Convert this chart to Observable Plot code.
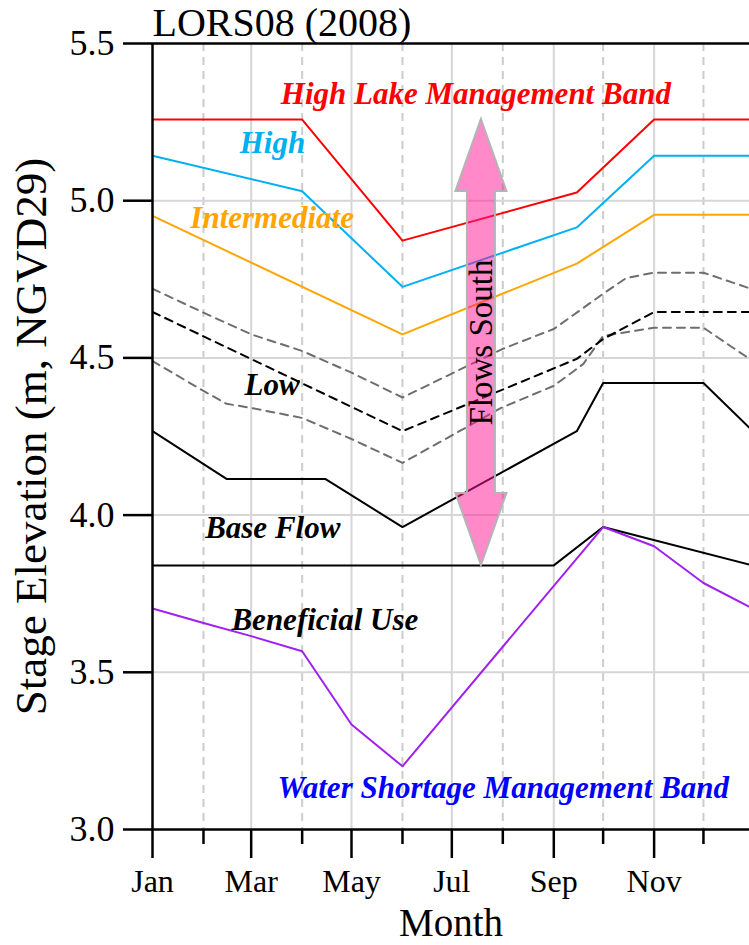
<!DOCTYPE html>
<html><head><meta charset="utf-8">
<script src="https://cdn.jsdelivr.net/npm/d3@7"></script>
<script src="https://cdn.jsdelivr.net/npm/@observablehq/plot@0.6"></script>
<style>body{margin:0;background:#fff;} svg{display:block;}</style>
</head><body><div id="chart"></div>
<script>
// ---------- data ----------
const titleText = "LORS08 (2008)";
const xTitle = "Month";
const yTitle = "Stage Elevation (m, NGVD29)";
const monthStarts = ["2008-01-01","2008-02-01","2008-03-01","2008-04-01","2008-05-01","2008-06-01","2008-07-01","2008-08-01","2008-09-01","2008-10-01","2008-11-01","2008-12-01"];
const xDomain = ["2008-01-01","2008-12-29"];
const yTicks = [3.0, 3.5, 4.0, 4.5, 5.0, 5.5];
const yGrid = [3.5, 4.0, 4.5, 5.0];

const hlmbDates = ["2008-01-01","2008-04-01","2008-06-01","2008-09-15","2008-11-01","2008-12-31"];
const hlmbValues = [5.258, 5.258, 4.873, 5.026, 5.258, 5.258];

const highDates = ["2008-01-01","2008-04-01","2008-06-01","2008-09-15","2008-11-01","2008-12-31"];
const highValues = [5.143, 5.030, 4.726, 4.915, 5.143, 5.143];

const interDates = ["2008-01-01","2008-06-01","2008-09-15","2008-11-01","2008-12-31"];
const interValues = [4.952, 4.575, 4.800, 4.955, 4.955];

const lowDates = ["2008-01-01","2008-06-01","2008-09-15","2008-10-01","2008-11-01","2008-12-31"];
const lowValues = [4.646, 4.267, 4.497, 4.560, 4.646, 4.646];

const upperGrayDates = ["2008-01-01","2008-02-01","2008-03-01","2008-04-01","2008-05-01","2008-06-01","2008-08-01","2008-09-01","2008-10-01","2008-10-15","2008-11-01","2008-12-01","2008-12-31"];
const upperGrayValues = [4.720, 4.644, 4.575, 4.522, 4.453, 4.374, 4.529, 4.592, 4.704, 4.754, 4.771, 4.771, 4.718];

const lowerGrayDates = ["2008-01-01","2008-02-01","2008-02-15","2008-03-01","2008-04-01","2008-05-01","2008-06-01","2008-07-31","2008-09-01","2008-09-19","2008-10-01","2008-11-01","2008-12-01","2008-12-10","2008-12-31"];
const lowerGrayValues = [4.490, 4.395, 4.354, 4.341, 4.309, 4.242, 4.166, 4.341, 4.411, 4.481, 4.570, 4.596, 4.596, 4.564, 4.490];

const benefDates = ["2008-01-01","2008-02-15","2008-04-15","2008-06-01","2008-09-15","2008-10-01","2008-12-01","2008-12-31"];
const benefValues = [4.267, 4.115, 4.115, 3.962, 4.267, 4.420, 4.420, 4.267];

const baseDates = ["2008-01-01","2008-09-01","2008-10-01","2008-12-31"];
const baseValues = [3.840, 3.840, 3.962, 3.840];

const wsmDates = ["2008-01-01","2008-02-01","2008-03-01","2008-04-01","2008-05-01","2008-06-01","2008-10-01","2008-11-01","2008-12-01","2008-12-31"];
const wsmValues = [3.703, 3.657, 3.615, 3.567, 3.334, 3.201, 3.962, 3.901, 3.784, 3.703];

const labelTexts = ["High Lake Management Band","High","Intermediate","Low","Base Flow","Beneficial Use","Water Shortage Management Band"];
const labelDates = ["2008-03-19","2008-02-23","2008-01-24","2008-02-26","2008-02-02","2008-02-18","2008-03-17"];
const labelValues = [5.306, 5.153, 4.914, 4.382, 3.927, 3.634, 3.099];
const labelColors = ["#ff0000","#00b0f0","#ffa500","#000000","#000000","#000000","#0000ff"];

const arrowText = "Flows South";
const arrowDate = "2008-07-19";
const arrowTop = 5.258;
const arrowBottom = 3.840;

// ---------- build ----------
const P = d3.isoParse;
const toRows = (dates, values) => dates.map((d, i) => ({date: P(d), value: values[i]}));
const months = monthStarts.map(P);
const majorMonths = months.filter((d, i) => i % 2 === 0);
const minorMonths = months.filter((d, i) => i % 2 === 1);
const serif = "'Liberation Serif','Times New Roman',Times,serif";

const seriesStyles = [
  {rows: toRows(upperGrayDates, upperGrayValues), stroke: "#6e6e6e", dash: "8,6"},
  {rows: toRows(lowerGrayDates, lowerGrayValues), stroke: "#6e6e6e", dash: "8,6"},
  {rows: toRows(lowDates, lowValues), stroke: "#000000", dash: "8,6"},
  {rows: toRows(hlmbDates, hlmbValues), stroke: "#ff0000"},
  {rows: toRows(highDates, highValues), stroke: "#00b0f0"},
  {rows: toRows(interDates, interValues), stroke: "#ffa500"},
  {rows: toRows(benefDates, benefValues), stroke: "#000000"},
  {rows: toRows(baseDates, baseValues), stroke: "#000000"},
  {rows: toRows(wsmDates, wsmValues), stroke: "#a020f0"}
];

const labels = labelTexts.map((t, i) => ({text: t, date: P(labelDates[i]), value: labelValues[i], color: labelColors[i]}));

function arrowMark(index, scales) {
  const x = scales.x(P(arrowDate));
  const yt = scales.y(arrowTop), yb = scales.y(arrowBottom);
  const sw = 14, hw = 25.5, hl = 72;
  const pts = [
    [x, yt], [x + hw, yt + hl], [x + sw, yt + hl], [x + sw, yb - hl], [x + hw, yb - hl],
    [x, yb], [x - hw, yb - hl], [x - sw, yb - hl], [x - sw, yt + hl], [x - hw, yt + hl]
  ];
  return d3.create("svg:path")
    .attr("d", "M" + pts.map(p => p.join(",")).join("L") + "Z")
    .attr("fill", "deeppink").attr("fill-opacity", 0.5)
    .attr("stroke", "#b4b4b4").attr("stroke-width", 2)
    .node();
}

const marks = [
  Plot.ruleX(majorMonths.slice(1), {stroke: "#d6d6d6", strokeWidth: 2}),
  Plot.ruleX(minorMonths, {stroke: "#cccccc", strokeWidth: 2, strokeDasharray: "8,6"}),
  Plot.ruleY(yGrid, {stroke: "#d6d6d6", strokeWidth: 2}),
  ...seriesStyles.map(s => Plot.line(s.rows, {x: "date", y: "value", stroke: s.stroke, strokeWidth: 2, strokeDasharray: s.dash, clip: true})),
  arrowMark,
  Plot.text([arrowText], {x: () => P(arrowDate), y: () => (arrowTop + arrowBottom) / 2, text: d => d, rotate: -90, fontSize: 33, fill: "black"}),
  Plot.text(labels, {x: "date", y: "value", text: "text", fill: "color", textAnchor: "start", lineAnchor: "bottom", fontSize: 31, fontWeight: "bold", fontStyle: "italic"}),
  Plot.ruleX([P(xDomain[0])], {stroke: "black", strokeWidth: 2.5}),
  Plot.ruleY([yTicks[0], yTicks[yTicks.length - 1]], {stroke: "black", strokeWidth: 2.5}),
  Plot.axisY(yTicks, {tickSize: 29, tickPadding: 9, fontSize: 36, tickFormat: d => d.toFixed(1), strokeWidth: 2.5, label: null}),
  Plot.axisX(majorMonths, {tickSize: 29, tickPadding: 11, fontSize: 32, tickFormat: d3.utcFormat("%b"), strokeWidth: 2.5, label: null}),
  Plot.axisX(minorMonths, {tickSize: 15, tickFormat: () => "", strokeWidth: 2.5, label: null}),
  Plot.text([titleText], {frameAnchor: "top-left", text: d => d, textAnchor: "start", lineAnchor: "bottom", dy: -8, fontSize: 40}),
  Plot.text([xTitle], {frameAnchor: "bottom", text: d => d, textAnchor: "middle", lineAnchor: "bottom", dy: 106, fontSize: 39}),
  Plot.text([yTitle], {frameAnchor: "left", text: d => d, textAnchor: "middle", rotate: -90, lineAnchor: "bottom", dx: -107, fontSize: 45})
];

const chart = Plot.plot({
  width: 749, height: 945,
  marginTop: 43, marginBottom: 116, marginLeft: 152, marginRight: 0,
  x: {type: "utc", domain: xDomain.map(P)},
  y: {domain: [yTicks[0], yTicks[yTicks.length - 1]]},
  color: {type: "identity"},
  style: {fontFamily: serif, background: "white", color: "black", overflow: "visible"},
  marks
});
document.getElementById("chart").appendChild(chart);
</script>
</body></html>
